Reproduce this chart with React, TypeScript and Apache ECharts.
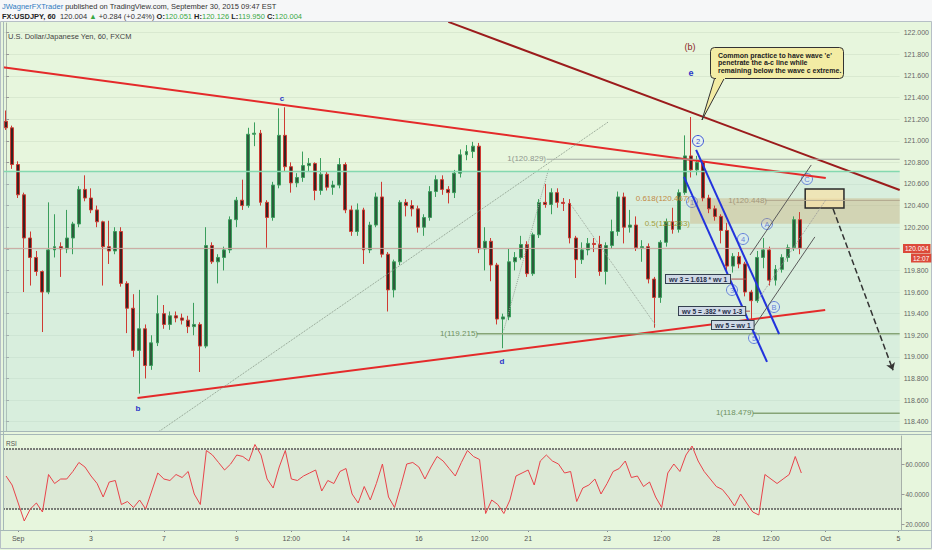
import { useEffect, useRef } from "react";
import * as echarts from "echarts";

// 4-hour candles: [open, close, low, high]
const candles: number[][] = [
  [121.18, 121.12, 121.10, 121.28], [121.12, 120.78, 120.74, 121.14], [120.78, 120.50, 120.47, 120.81],
  [120.50, 120.10, 119.60, 120.52], [120.10, 119.92, 119.66, 120.16], [119.92, 119.79, 119.75, 119.98],
  [119.79, 119.60, 119.23, 119.80], [119.60, 119.99, 119.58, 120.43], [119.99, 120.02, 119.92, 120.32],
  [120.02, 120.00, 119.74, 120.06], [120.00, 120.10, 119.96, 120.36], [120.10, 120.23, 119.95, 120.25],
  [120.23, 120.55, 120.20, 120.58], [120.55, 120.47, 120.44, 120.68], [120.47, 120.36, 120.33, 120.56],
  [120.36, 120.25, 120.20, 120.40], [120.25, 120.02, 119.66, 120.26], [120.02, 119.98, 119.86, 120.26],
  [119.98, 120.16, 119.95, 120.20], [120.16, 119.68, 119.65, 120.20], [119.68, 119.45, 119.22, 119.70],
  [119.45, 119.06, 119.00, 119.58], [119.06, 119.26, 118.66, 119.62], [119.26, 118.92, 118.80, 119.30],
  [118.92, 119.13, 118.88, 119.20], [119.13, 119.40, 119.10, 119.57], [119.40, 119.30, 119.26, 119.48],
  [119.30, 119.38, 119.25, 119.42], [119.38, 119.36, 119.32, 119.42], [119.36, 119.34, 119.30, 119.40],
  [119.34, 119.28, 119.22, 119.38], [119.28, 119.30, 119.20, 119.50], [119.30, 119.10, 118.86, 119.32],
  [119.10, 120.03, 119.08, 120.20], [120.03, 119.88, 119.86, 120.06], [119.88, 119.92, 119.68, 119.95],
  [119.92, 119.99, 119.80, 120.02], [119.99, 120.27, 119.96, 120.30], [120.27, 120.45, 120.20, 120.48],
  [120.45, 120.40, 120.36, 120.64], [120.40, 121.06, 120.38, 121.12], [121.06, 121.07, 120.95, 121.17],
  [121.07, 120.43, 120.40, 121.10], [120.43, 120.29, 120.01, 120.45], [120.29, 120.59, 120.26, 120.62],
  [120.59, 121.05, 120.56, 121.30], [121.05, 120.76, 120.72, 121.31], [120.76, 120.61, 120.52, 120.80],
  [120.61, 120.66, 120.57, 120.70], [120.66, 120.77, 120.62, 120.90], [120.77, 120.79, 120.72, 120.84],
  [120.79, 120.54, 120.45, 120.80], [120.54, 120.69, 120.50, 120.84], [120.69, 120.57, 120.54, 120.72],
  [120.57, 120.59, 120.50, 120.63], [120.59, 120.78, 120.56, 120.84], [120.78, 120.36, 120.33, 120.80],
  [120.36, 120.16, 120.12, 120.40], [120.16, 120.36, 120.12, 120.42], [120.36, 119.99, 119.86, 120.38],
  [119.99, 120.22, 119.96, 120.25], [120.22, 120.48, 120.20, 120.52], [120.48, 119.95, 119.92, 120.62],
  [119.95, 119.62, 119.42, 119.97], [119.62, 119.88, 119.55, 119.90], [119.88, 120.43, 119.85, 120.45],
  [120.43, 120.40, 120.30, 120.46], [120.40, 120.37, 120.30, 120.45], [120.37, 120.20, 120.15, 120.40],
  [120.20, 120.29, 120.12, 120.32], [120.29, 120.53, 120.26, 120.58], [120.53, 120.64, 120.48, 120.68],
  [120.64, 120.55, 120.50, 120.68], [120.55, 120.52, 120.42, 120.58], [120.52, 120.70, 120.47, 120.73],
  [120.70, 120.87, 120.66, 120.92], [120.87, 120.90, 120.82, 120.96], [120.90, 120.95, 120.84, 120.99],
  [120.95, 120.00, 119.96, 120.98], [120.00, 120.07, 119.80, 120.20], [120.07, 119.85, 119.70, 120.10],
  [119.85, 119.35, 119.30, 119.87], [119.35, 119.37, 119.08, 119.40], [119.37, 119.88, 119.34, 120.00],
  [119.88, 119.92, 119.80, 119.97], [119.92, 120.04, 119.90, 120.12], [120.04, 119.77, 119.74, 120.07],
  [119.77, 120.13, 119.75, 120.15], [120.13, 120.43, 120.10, 120.46], [120.43, 120.41, 120.38, 120.60],
  [120.41, 120.52, 120.32, 120.56], [120.52, 120.43, 120.38, 120.56], [120.43, 120.42, 120.35, 120.47],
  [120.42, 120.10, 120.05, 120.46], [120.10, 119.90, 119.73, 120.12], [119.90, 119.99, 119.86, 120.06],
  [119.99, 120.05, 119.94, 120.10], [120.05, 120.04, 119.97, 120.10], [120.04, 119.79, 119.75, 120.12],
  [119.79, 120.03, 119.67, 120.06], [120.03, 120.16, 120.00, 120.27], [120.16, 120.48, 120.12, 120.53],
  [120.48, 120.20, 120.05, 120.52], [120.20, 120.22, 120.15, 120.36], [120.22, 120.01, 119.98, 120.30],
  [120.01, 120.02, 119.88, 120.08], [120.02, 119.72, 119.68, 120.05], [119.72, 119.55, 119.27, 119.74],
  [119.55, 120.06, 119.50, 120.08], [120.06, 120.25, 120.02, 120.28], [120.25, 120.18, 120.14, 120.38],
  [120.18, 120.52, 120.15, 120.55], [120.52, 120.86, 120.50, 121.05], [120.86, 120.73, 120.66, 121.22],
  [120.73, 120.80, 120.68, 120.86], [120.80, 120.47, 120.44, 120.82], [120.47, 120.37, 120.33, 120.50],
  [120.37, 120.30, 120.26, 120.40], [120.30, 120.17, 120.05, 120.32], [120.17, 119.84, 119.78, 120.24],
  [119.84, 119.93, 119.78, 119.96], [119.93, 119.86, 119.82, 119.97], [119.86, 119.60, 119.56, 119.88],
  [119.60, 119.52, 119.29, 119.62], [119.52, 119.92, 119.50, 119.98], [119.92, 119.99, 119.82, 120.10],
  [119.99, 119.71, 119.66, 120.02], [119.71, 119.81, 119.66, 119.85], [119.81, 119.92, 119.78, 119.95],
  [119.92, 120.01, 119.88, 120.04], [120.01, 120.27, 119.98, 120.30], [120.27, 120.004, 119.95, 120.34],
];

const rsiValues: number[] = [
  52, 46, 34, 22, 30, 34, 28, 53, 47, 50, 50, 55, 61, 58, 52, 47, 38, 48, 49, 33,
  35, 31, 36, 30, 42, 54, 50, 49, 53, 51, 55, 40, 33, 69, 66, 61, 56, 60, 66, 65,
  62, 73, 66, 50, 44, 58, 69, 50, 49, 52, 54, 56, 42, 49, 47, 55, 57, 40, 34, 45,
  36, 47, 60, 38, 31, 45, 60, 61, 58, 50, 58, 65, 62, 57, 52, 61, 69, 65, 63, 27,
  36, 33, 27, 36, 52, 54, 56, 46, 62, 66, 62, 60, 54, 55, 35, 44, 46, 50, 40, 47,
  55, 57, 62, 51, 52, 45, 48, 38, 31, 54, 60, 55, 66, 72, 62, 55, 50, 45, 43, 38,
  32, 40, 34, 28, 26, 53, 50, 47, 50, 53, 65, 54,
];

const timeLabels: [number, string][] = [
  [2, "Sep"], [14, "3"], [26, "7"], [38, "9"], [47, "12:00"], [56, "14"], [68, "16"],
  [78, "12:00"], [86, "21"], [99, "23"], [108, "12:00"], [117, "28"], [126, "12:00"],
  [135, "Oct"], [147, "5"],
];
const CATEGORY_COUNT = 148;

const priceTicks = [118.4, 118.6, 118.8, 119.0, 119.2, 119.4, 119.6, 119.8, 120.0, 120.2,
  120.4, 120.6, 120.8, 121.0, 121.2, 121.4, 121.6, 121.8, 122.0];
const rsiTicks = [20, 40, 60];
const lastPrice = 120.004;

// Drawing tools, as [bar index, price]
const trendLines = [
  { pts: [[-0.5, 121.68], [135.3, 120.655]], color: "#e42a2a", width: 2, type: "solid" },
  { pts: [[21.7, 118.62], [135.2, 119.434]], color: "#e42a2a", width: 2, type: "solid" },
  { pts: [[73.0, 122.1], [147.5, 120.544]], color: "#9b1c1c", width: 2, type: "solid" },
  { pts: [[25.0, 118.3], [99.4, 121.174]], color: "#8a9a8a", width: 1, type: "dotted" },
  { pts: [[82.15, 119.247], [89.6, 120.746]], color: "#9aa69a", width: 1, type: "dotted" },
  { pts: [[93.3, 120.404], [107.2, 119.294]], color: "#9aa69a", width: 1, type: "dotted" },
  { pts: [[-0.5, 120.715], [147.5, 120.715]], color: "#84d8b0", width: 1.5, type: "solid" },
  { pts: [[-0.5, lastPrice], [147.5, lastPrice]], color: "#c9a49c", width: 1, type: "solid" },
  { pts: [[89.2, 120.829], [147.5, 120.829]], color: "#a3aaa3", width: 1, type: "solid" },
  { pts: [[77.7, 119.215], [147.5, 119.215]], color: "#86a476", width: 1.5, type: "solid" },
  { pts: [[123.3, 118.479], [147.5, 118.479]], color: "#86a476", width: 1.5, type: "solid" },
  { pts: [[125.3, 120.448], [147.5, 120.448]], color: "#b3a98f", width: 1, type: "solid" },
  { pts: [[111.9, 120.665], [125.6, 118.953]], color: "#2233dd", width: 2, type: "solid" },
  { pts: [[113.9, 120.915], [127.6, 119.212]], color: "#2233dd", width: 2, type: "solid" },
  { pts: [[122.8, 119.943], [132.9, 120.776]], color: "#5a5a5a", width: 1, type: "solid" },
  { pts: [[123.3, 119.268], [133.5, 120.11]], color: "#5a5a5a", width: 1, type: "solid" },
  { pts: [[124.1, 119.526], [135.3, 120.452]], color: "#9a9a9a", width: 1, type: "dotted" },
  { pts: [[119.7, 119.72], [122.2, 119.72]], color: "#b05050", width: 1, type: "solid" },
  { pts: [[121.2, 119.423], [122.8, 119.423]], color: "#b05050", width: 1, type: "solid" },
];
const fibZone = [[112.9, 120.467], [147.5, 120.233]];
const targetBox = [[131.9, 120.554], [138.3, 120.378]];
const projection = [[136.5, 120.37], [146.4, 118.876]];

const FF = "'Liberation Sans', Arial, sans-serif";
const PRICE_MIN = 118.314;
const PRICE_MAX = 122.0898;

function txt(x: number, y: number, text: string, o: any = {}) {
  return {
    type: "text", x, y, z: 20, silent: true,
    style: {
      text, fill: o.fill || "#333", fontSize: o.size || 8, fontFamily: FF,
      fontWeight: o.bold ? "bold" : "normal", align: o.align || "left",
      verticalAlign: o.va || "middle", ...(o.extra || {}),
    },
  };
}

function circ(x: number, y: number, t: string) {
  return {
    type: "group", x, y, z: 20, silent: true,
    children: [
      { type: "circle", shape: { cx: 0, cy: 0, r: 5.5 }, style: { fill: "rgba(235,242,255,0.55)", stroke: "#3b55d8", lineWidth: 1 } },
      { type: "text", style: { text: t, x: 0, y: 0.5, align: "center", verticalAlign: "middle", fontSize: 7.5, fill: "#3b55d8", fontFamily: FF } },
    ],
  };
}

function wvBox(x: number, y: number, t: string) {
  return txt(x, y, t, {
    size: 6.5, bold: true, fill: "#1d2b45", va: "top",
    extra: { backgroundColor: "#cfd9e6", borderColor: "#34404f", borderWidth: 1, padding: [1, 3, 0, 3] },
  });
}

function buildOption(): any {
  const cats = Array.from({ length: CATEGORY_COUNT }, () => "");
  timeLabels.forEach(([i, s]) => (cats[i] = s));

  const lineSeries = trendLines.map((l) => ({
    type: "line", xAxisIndex: 2, yAxisIndex: 0, data: l.pts, symbol: "none", silent: true,
    z: 5, clip: true, lineStyle: { color: l.color, width: l.width, type: l.type },
  }));

  return {
    animation: false,
    backgroundColor: "#e7f6dd",
    grid: [
      { left: 3, right: 30, top: 23, height: 408, show: false },
      { left: 3, right: 30, top: 436, height: 94, show: false },
    ],
    xAxis: [
      { type: "category", gridIndex: 0, data: cats, boundaryGap: true, axisLine: { show: false }, axisTick: { show: false }, axisLabel: { show: false }, splitLine: { show: false } },
      {
        type: "category", gridIndex: 1, data: cats, boundaryGap: true, axisLine: { show: false },
        axisTick: { show: true, alignWithLabel: true, interval: (i: number, v: string) => v !== "", length: 2, lineStyle: { color: "#888" } },
        axisLabel: { interval: (i: number, v: string) => v !== "", fontSize: 7, color: "#555", fontFamily: FF, margin: 5 },
        splitLine: { show: false },
      },
      { type: "value", gridIndex: 0, min: -0.5, max: CATEGORY_COUNT - 0.5, show: false },
    ],
    yAxis: [
      {
        type: "value", gridIndex: 0, position: "right", min: PRICE_MIN, max: PRICE_MAX, scale: true,
        axisLine: { show: true, lineStyle: { color: "#a9b3a9" } },
        axisTick: { show: true, customValues: priceTicks, length: 3, lineStyle: { color: "#999" } },
        axisLabel: { customValues: priceTicks, formatter: (v: number) => v.toFixed(3), fontSize: 7, color: "#666", fontFamily: FF, margin: 4 },
        splitLine: { show: true, lineStyle: { color: "rgba(120,150,120,0.13)", width: 1 } },
      },
      {
        type: "value", gridIndex: 1, position: "right", min: 16, max: 78.67,
        axisLine: { show: true, lineStyle: { color: "#a9b3a9" } },
        axisTick: { show: true, customValues: rsiTicks, length: 3, lineStyle: { color: "#999" } },
        axisLabel: { customValues: rsiTicks, formatter: (v: number) => v.toFixed(4), fontSize: 6.5, color: "#666", fontFamily: FF, margin: 4 },
        splitLine: { show: false },
      },
    ],
    series: [
      {
        type: "line", xAxisIndex: 2, yAxisIndex: 0, data: [[-0.5, 118.0]], symbol: "none", silent: true, z: 1,
        lineStyle: { width: 0 },
        markArea: {
          silent: true,
          data: [
            [{ coord: [-0.5, 120.715], itemStyle: { color: "rgba(185,222,222,0.33)" } }, { coord: [147.5, PRICE_MIN] }],
          ],
        },
      },
      {
        type: "candlestick", xAxisIndex: 0, yAxisIndex: 0, data: candles, barWidth: 3.4, z: 3,
        itemStyle: { color: "#2f5a3c", color0: "#3a2422", borderColor: "#3a9e5c", borderColor0: "#cf3a32", borderWidth: 1 },
      },
      {
        type: "line", xAxisIndex: 2, yAxisIndex: 0, data: [[-0.5, 118.0]], symbol: "none", silent: true, z: 4,
        lineStyle: { width: 0 },
        markArea: {
          silent: true,
          data: [
            [{ coord: fibZone[0], itemStyle: { color: "rgba(196,160,96,0.33)" } }, { coord: fibZone[1] }],
            [{ coord: targetBox[0], itemStyle: { color: "rgba(246,226,170,0.75)", borderColor: "#2a2a2a", borderWidth: 1.5 } }, { coord: targetBox[1] }],
          ],
        },
        markLine: {
          silent: true, symbol: ["none", "arrow"], symbolSize: 7,
          lineStyle: { type: "dashed", color: "#333", width: 1.5 }, label: { show: false },
          data: [[{ coord: projection[0] }, { coord: projection[1] }]],
        },
      },
      ...lineSeries,
      {
        type: "line", xAxisIndex: 1, yAxisIndex: 1, data: rsiValues, symbol: "none", z: 5,
        lineStyle: { color: "#e8434a", width: 1 },
        markLine: {
          silent: true, symbol: "none", label: { show: false },
          lineStyle: { type: [2, 1], color: "#555", width: 1.5 },
          data: [{ yAxis: 70 }, { yAxis: 30 }],
        },
        markArea: {
          silent: true,
          data: [[{ yAxis: 70, itemStyle: { color: "rgba(150,150,170,0.13)" } }, { yAxis: 30 }]],
        },
      },
    ],
    graphic: [
      { type: "rect", shape: { x: 0, y: 0, width: 932, height: 21 }, style: { fill: "#f6f7f8" }, silent: true, z: 0 },
      { type: "rect", shape: { x: 0.5, y: 21.5, width: 931, height: 527 }, style: { fill: "none", stroke: "#b6bfc6", lineWidth: 1 }, silent: true, z: 15 },
      { type: "line", shape: { x1: 0, y1: 431.5, x2: 932, y2: 431.5 }, style: { stroke: "#a6b8b8", lineWidth: 1 }, silent: true, z: 15 },
      { type: "line", shape: { x1: 0, y1: 434.5, x2: 932, y2: 434.5 }, style: { stroke: "#a6b8b8", lineWidth: 1 }, silent: true, z: 15 },
      { type: "line", shape: { x1: 0, y1: 530.5, x2: 932, y2: 530.5 }, style: { stroke: "#a6b8b8", lineWidth: 1 }, silent: true, z: 15 },
      { type: "line", shape: { x1: 3.5, y1: 22, x2: 3.5, y2: 531 }, style: { stroke: "#a6b8b8", lineWidth: 1 }, silent: true, z: 15 },
      {
        type: "text", x: 2, y: 6, z: 20, silent: true,
        style: {
          text: "{a|JWagnerFXTrader} {b|published on TradingView.com, September 30, 2015 09:47 EST}",
          verticalAlign: "middle", fontFamily: FF, fontSize: 7.5,
          rich: { a: { fill: "#2f7bbf", fontSize: 7.5, fontFamily: FF }, b: { fill: "#333", fontSize: 7.5, fontFamily: FF } },
        },
      },
      {
        type: "text", x: 2, y: 16, z: 20, silent: true,
        style: {
          text: "{k|FX:USDJPY, 60}  {b|120.004} {g|▲} {b|+0.284 (+0.24%)} {k|O:}{v|120.051} {k|H:}{v|120.126} {k|L:}{v|119.950} {k|C:}{v|120.004}",
          verticalAlign: "middle", fontFamily: FF, fontSize: 7.5,
          rich: {
            k: { fill: "#222", fontWeight: "bold", fontSize: 7.5, fontFamily: FF },
            b: { fill: "#333", fontSize: 7.5, fontFamily: FF },
            g: { fill: "#3aa845", fontSize: 7.5, fontFamily: FF },
            v: { fill: "#3aa845", fontSize: 7.5, fontFamily: FF },
          },
        },
      },
      txt(8, 36, "U.S. Dollar/Japanese Yen, 60, FXCM", { size: 7.5, fill: "#444" }),
      txt(6, 443, "RSI", { size: 6.5, fill: "#555" }),
      // wave labels
      txt(690, 47, "(b)", { size: 9, fill: "#8b1f1f", align: "center" }),
      txt(691, 73, "e", { size: 9, fill: "#2a35c8", bold: true, align: "center" }),
      txt(282, 98, "c", { size: 8, fill: "#2a35c8", bold: true, align: "center" }),
      txt(138, 408, "b", { size: 8, fill: "#2a35c8", bold: true, align: "center" }),
      txt(502, 361, "d", { size: 8, fill: "#2a35c8", bold: true, align: "center" }),
      // fib labels
      txt(546, 158, "1(120.829)", { size: 8, fill: "#8f968f", align: "right" }),
      txt(690, 198, "0.618(120.467)", { size: 8, fill: "#c28a45", align: "right" }),
      txt(690, 223, "0.5(120.233)", { size: 8, fill: "#a39e3c", align: "right" }),
      txt(478, 333, "1(119.215)", { size: 8, fill: "#6f9160", align: "right" }),
      txt(754, 412, "1(118.479)", { size: 8, fill: "#6f9160", align: "right" }),
      txt(767, 200, "1(120.448)", { size: 8, fill: "#a3977c", align: "right" }),
      // wave count circles
      circ(698, 141, "2"), circ(692, 202, "1"), circ(732, 290, "3"), circ(743, 239, "4"),
      circ(754, 338, "5"), circ(767, 224, "A"), circ(774, 307, "B"), circ(807, 179, "C"),
      // wave ratio boxes
      wvBox(666, 275, "wv 3 = 1.618 * wv 1"),
      wvBox(679, 307, "wv 5 = .382 * wv 1-3"),
      wvBox(712, 321, "wv 5 = wv 1"),
      // callout
      {
        type: "polygon", z: 18, silent: true,
        shape: { points: [[715, 77], [725, 77], [702, 120]] },
        style: { fill: "#f3eca4", stroke: "#333", lineWidth: 1 },
      },
      {
        type: "rect", z: 19, silent: true,
        shape: { x: 710.5, y: 47.5, width: 133, height: 31, r: 4 },
        style: { fill: "#f3eca4", stroke: "#333", lineWidth: 1 },
      },
      { type: "rect", z: 19, silent: true, shape: { x: 716, y: 76, width: 9, height: 3 }, style: { fill: "#f3eca4" } },
      txt(718, 55, "Common practice to have wave 'e'", { size: 7, bold: true, fill: "#222" }),
      txt(718, 62.5, "penetrate the a-c line while", { size: 7, bold: true, fill: "#222" }),
      txt(718, 70, "remaining below the wave c extreme.", { size: 7, bold: true, fill: "#222" }),
      // last price tags
      txt(903, 248.5, "120.004", { size: 6.5, fill: "#fff", extra: { backgroundColor: "#dc4a3a", padding: [1, 2, 1, 2] } }),
      txt(911, 258, "12:07", { size: 6.5, fill: "#fff", extra: { backgroundColor: "#dc4a3a", padding: [1, 2, 1, 2] } }),
    ],
  };
}

export default function App() {
  const ref = useRef<HTMLDivElement>(null);
  useEffect(() => {
    const chart = echarts.init(ref.current!, null, { renderer: "svg" });
    chart.setOption(buildOption());
    return () => chart.dispose();
  }, []);
  return <div ref={ref} style={{ position: "fixed", left: 0, top: 0, width: 932, height: 550 }} />;
}
